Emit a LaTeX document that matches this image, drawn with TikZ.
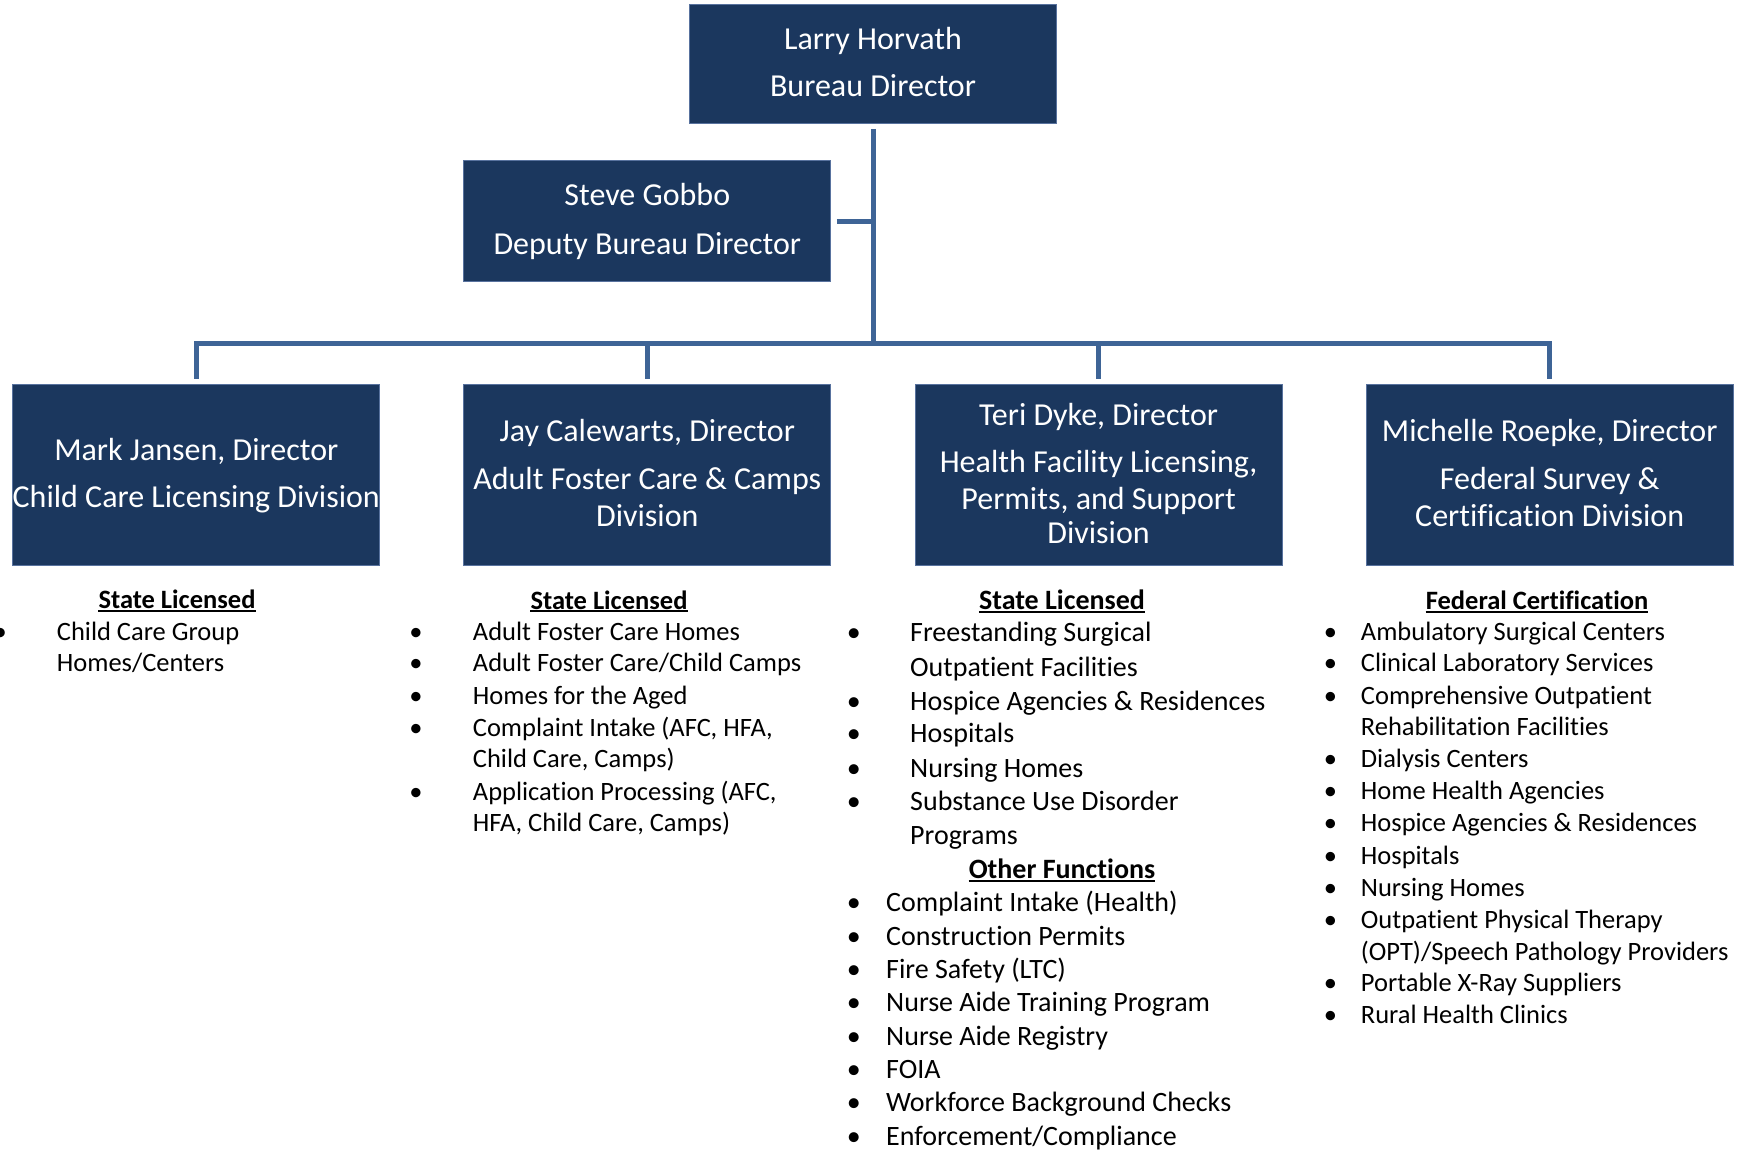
\documentclass[tikz,border=0pt]{standalone}
\usepackage{fontspec}
\setmainfont{Carlito}[Ligatures=NoCommon]
\definecolor{navy}{RGB}{27,55,94}
\definecolor{navyedge}{RGB}{88,114,158}
\definecolor{linkblue}{RGB}{62,100,150}
\def\lsz{26.5}
\tikzset{
  box/.style={draw=navyedge, line width=1pt, fill=navy, minimum width=367pt, inner sep=0pt},
  btxt/.style={text=white, font=\fontsize{32}{36}\selectfont, inner sep=0pt, anchor=base},
  link/.style={draw=linkblue, line width=5pt},
  itemtxt/.style={font=\fontsize{\lsz}{32}\selectfont, inner sep=0pt, anchor=base west},
  bul/.style={font=\fontsize{\lsz}{32}\selectfont, inner sep=0pt, anchor=base},
  head/.style={font=\fontsize{\lsz}{32}\selectfont\bfseries, inner sep=0pt, anchor=base},
  uline/.style={line width=1.8pt}
}
\newcommand\li[5]{\node[bul] (#1b) at (#2,#4) {•};\node[itemtxt] (#1) at (#3,#4) {#5};}
\newcommand\lc[4]{\node[itemtxt] (#1) at (#2,#3) {#4};}
\newcommand\hd[4]{\node[head] (#1) at (#2,#3) {#4};
  \draw[uline] ([yshift=-2.3pt]#1.base west) -- ([yshift=-2.3pt]#1.base east);}
\begin{document}
\begin{tikzpicture}[x=1pt,y=-1pt]
\useasboundingbox (0,0) rectangle (1739,1151);
% boxes
\node[box, minimum height=118.6pt] (larry) at (873,64) {};
\node[box, minimum height=121pt] (steve) at (647.3,221.2) {};
\node[box, minimum height=180.3pt] (mark) at (196.3,474.85) {};
\node[box, minimum height=180.3pt] (jay) at (647.3,474.85) {};
\node[box, minimum height=180.3pt] (teri) at (1098.6,474.85) {};
\node[box, minimum height=180.3pt] (michelle) at (1549.7,474.85) {};
% box texts
\node[btxt] (larry1) at (873,49.3) {Larry Horvath};
\node[btxt] (larry2) at (873,96.7) {Bureau Director};
\node[btxt] (steve1) at (647.3,205) {Steve Gobbo};
\node[btxt] (steve2) at (647.3,254) {Deputy Bureau Director};
\node[btxt] (mark1) at (196.3,460) {Mark Jansen, Director};
\node[btxt] (mark2) at (196.3,507.7) {Child Care Licensing Division};
\node[btxt] (jay1) at (647.3,441.7) {Jay Calewarts, Director};
\node[btxt] (jay2) at (647.3,489.3) {Adult Foster Care \& Camps};
\node[btxt] (jay3) at (647.3,526) {Division};
\node[btxt] (teri1) at (1098.6,425.1) {Teri Dyke, Director};
\node[btxt] (teri2) at (1098.6,472.7) {Health Facility Licensing,};
\node[btxt] (teri3) at (1098.6,509.2) {Permits, and Support};
\node[btxt] (teri4) at (1098.6,543.8) {Division};
\node[btxt] (mich1) at (1549.7,441.7) {Michelle Roepke, Director};
\node[btxt] (mich2) at (1549.7,489.3) {Federal Survey \&};
\node[btxt] (mich3) at (1549.7,526) {Certification Division};
% connectors
\coordinate (hub) at (873,343);
\draw[link, shorten <=5pt] (larry.south) -- (hub);
\draw[link, shorten <=5.5pt] (steve.east) -- (steve.east -| hub);
\draw[link, shorten <=5.5pt, shorten >=5.5pt] (mark.north) -- (mark.north |- hub) -- (michelle.north |- hub) -- (michelle.north);
\draw[link, shorten >=5.5pt] (jay.north |- hub) -- (jay.north);
\draw[link, shorten >=5.5pt] (teri.north |- hub) -- (teri.north);
% column 1
\hd{h1}{177}{608.7}{State Licensed}
\li{c1a}{0.3}{56.7}{640.7}{Child Care Group}
\lc{c1a2}{56.7}{671.7}{Homes/Centers}
% column 2
\hd{h2}{609}{609}{State Licensed}
\li{c2a}{416}{472.7}{640}{Adult Foster Care Homes}
\li{c2b}{416}{472.7}{671.7}{Adult Foster Care/Child Camps}
\li{c2c}{416}{472.7}{704}{Homes for the Aged}
\li{c2d}{416}{472.7}{736}{Complaint Intake (AFC, HFA,}
\lc{c2d2}{472.7}{767.3}{Child Care, Camps)}
\li{c2e}{416}{472.7}{800}{Application Processing (AFC,}
\lc{c2e2}{472.7}{831.7}{HFA, Child Care, Camps)}
% column 3
\begin{scope}
\def\lsz{28}
\hd{h3}{1062}{609.3}{State Licensed}
\li{c3a}{853.8}{910}{641.7}{Freestanding Surgical}
\lc{c3a2}{910}{676}{Outpatient Facilities}
\li{c3b}{853.8}{910}{710}{Hospice Agencies \& Residences}
\li{c3c}{853.8}{910}{742.7}{Hospitals}
\li{c3d}{853.8}{910}{777.3}{Nursing Homes}
\li{c3e}{853.8}{910}{810.7}{Substance Use Disorder}
\lc{c3e2}{910}{844}{Programs}
\hd{h3o}{1062}{878.3}{Other Functions}
\li{c3f}{853.8}{886}{911.7}{Complaint Intake (Health)}
\li{c3g}{853.8}{886}{945}{Construction Permits}
\li{c3h}{853.8}{886}{978.3}{Fire Safety (LTC)}
\li{c3i}{853.8}{886}{1011.7}{Nurse Aide Training Program}
\li{c3j}{853.8}{886}{1045}{Nurse Aide Registry}
\li{c3k}{853.8}{886}{1078.3}{FOIA}
\li{c3l}{853.8}{886}{1111.7}{Workforce Background Checks}
\li{c3m}{853.8}{886}{1145}{Enforcement/Compliance}
\end{scope}
% column 4
\hd{h4}{1537}{609.3}{Federal Certification}
\li{c4a}{1330.5}{1360.7}{640}{Ambulatory Surgical Centers}
\li{c4b}{1330.5}{1360.7}{671.7}{Clinical Laboratory Services}
\li{c4c}{1330.5}{1360.7}{704}{Comprehensive Outpatient}
\lc{c4c2}{1360.7}{735}{Rehabilitation Facilities}
\li{c4d}{1330.5}{1360.7}{767.3}{Dialysis Centers}
\li{c4e}{1330.5}{1360.7}{799.3}{Home Health Agencies}
\li{c4f}{1330.5}{1360.7}{831.7}{Hospice Agencies \& Residences}
\li{c4g}{1330.5}{1360.7}{864}{Hospitals}
\li{c4h}{1330.5}{1360.7}{896}{Nursing Homes}
\li{c4i}{1330.5}{1360.7}{928.3}{Outpatient Physical Therapy}
\lc{c4i2}{1360.7}{960}{(OPT)/Speech Pathology Providers}
\li{c4j}{1330.5}{1360.7}{991.7}{Portable X-Ray Suppliers}
\li{c4k}{1330.5}{1360.7}{1023.3}{Rural Health Clinics}
\end{tikzpicture}
\end{document}
